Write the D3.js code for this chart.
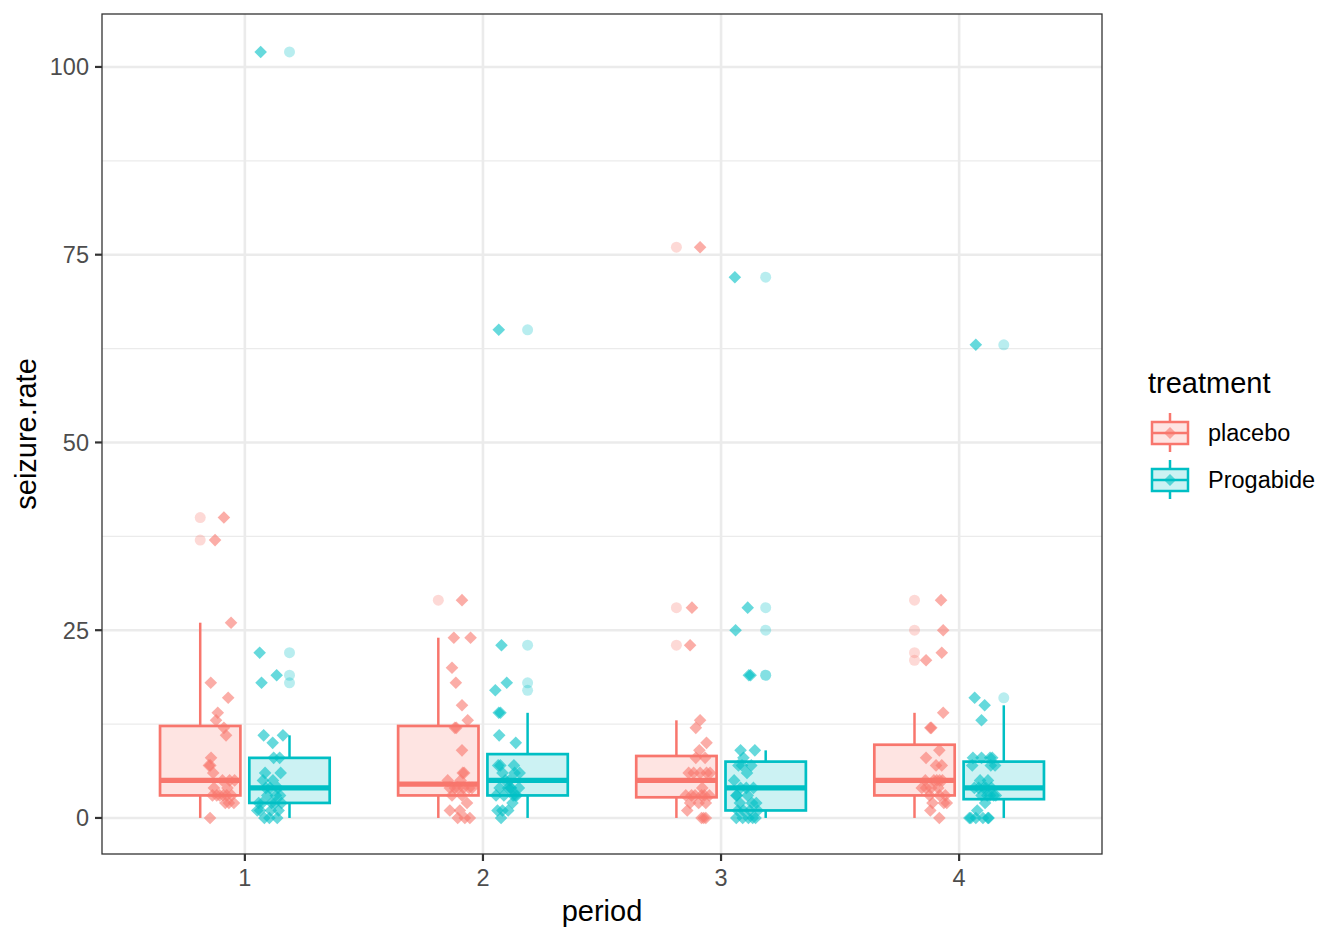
<!DOCTYPE html>
<html><head><meta charset="utf-8">
<script src="https://cdn.jsdelivr.net/npm/d3@7"></script>
<style>body{margin:0;background:#fff}svg{display:block;font-family:"Liberation Sans",Arial,sans-serif}</style>
</head><body><svg id="c" width="1344" height="940"></svg>
<script>
const periods = [1, 2, 3, 4];
const treatments = ["placebo", "Progabide"];
const colors = ["#F8766D", "#00BFC4"];
const yTicks = [0, 25, 50, 75, 100];
const yMinor = [12.5, 37.5, 62.5, 87.5];

// seizure counts per subject, one array per period
const placeboP1 = [5,3,2,4,7,5,6,40,5,14,26,12,4,7,16,11,0,37,3,3,3,3,2,8,18,2,3,13];
const placeboP2 = [3,5,4,4,18,2,4,20,6,13,12,6,4,9,24,0,0,29,5,0,4,4,3,12,24,1,1,15];
const placeboP3 = [3,3,0,1,9,8,0,23,6,6,6,8,6,12,10,0,3,28,2,6,3,3,3,2,76,2,4,13];
const placeboP4 = [3,3,5,4,21,7,2,12,5,0,22,4,2,14,9,5,3,29,5,7,4,4,5,8,25,1,2,12];
const progabideP1 = [11,8,0,3,2,4,22,5,2,3,4,2,0,5,11,10,19,1,6,2,102,4,8,1,18,6,3,1,2,0,1];
const progabideP2 = [14,7,4,6,6,3,17,4,4,7,18,1,2,4,14,5,7,1,10,1,65,3,6,3,11,3,5,23,3,0,4];
const progabideP3 = [9,9,3,1,7,1,19,7,0,7,2,1,4,0,25,3,6,2,8,0,72,2,5,1,28,4,4,19,0,0,3];
const progabideP4 = [8,4,0,3,4,3,16,4,4,7,5,0,0,3,15,8,7,3,8,0,63,4,7,5,13,0,3,8,1,0,2];

// horizontal jitter of each point (fraction of jitter width)
const jitPlaceboP1 = [0.6,-0.3,0.9,-0.5,-0.85,0.1,-0.55,0.2,0.95,-0.23,0.7,0.2,0.45,-0.75,0.5,0.35,-0.77,-0.42,0.15,0.75,-0.6,0.4,0.3,-0.7,-0.72,0.55,-0.1,-0.35];
const jitPlaceboP2 = [-0.5,0.1,0.7,-0.3,-0.23,0.55,-0.65,-0.5,0.35,0.6,-0.2,0.25,0.9,0.2,-0.37,-0.1,0.4,0.2,-0.8,0.75,0.3,-0.1,0.2,-0.3,0.8,-0.65,0.05,0.2];
const jitPlaceboP3 = [-0.4,0.5,0.3,-0.7,0.15,-0.1,0.6,-0.5,-0.25,0.65,0.2,0.55,-0.6,-0.1,0.65,0.45,0.85,-0.37,0.1,0.9,-0.15,0.3,-0.8,0.6,0.2,-0.5,0.35,0.2];
const jitPlaceboP4 = [0.3,-0.4,0.1,-0.95,-0.65,0.05,-0.2,-0.35,0.5,0.28,0.45,-0.65,0.6,0.55,0.28,-0.1,0.7,0.4,0.3,0.45,0.2,-0.3,-0.7,-0.65,0.55,-0.35,0.8,-0.28];
const jitProgabideP1 = [-0.35,0.35,-0.3,0.5,-0.7,0.1,-0.63,-0.4,0.2,-0.1,0.65,-0.45,0.6,0.3,1.0,0.28,0.56,-0.8,0.84,0.9,-0.56,-0.2,0.77,0.15,-0.5,-0.25,0.8,-0.6,0.45,0.05,0.7];
const jitProgabideP2 = [-0.56,-0.6,0.3,0.55,-0.3,0.7,-0.8,-0.5,0.1,-0.45,0.0,-0.65,0.4,0.85,-0.44,0.2,0.5,0.1,0.63,-0.3,-0.56,-0.2,0.9,0.45,-0.53,-0.75,-0.1,-0.37,0.6,-0.4,0.25];
const jitProgabideP3 = [-0.3,0.7,0.2,-0.5,-0.2,0.35,0.28,0.45,-0.6,-0.45,0.8,-0.1,0.6,0.25,-0.65,-0.55,0.15,-0.35,-0.1,0.55,-0.7,0.5,-0.75,0.9,0.2,-0.3,0.1,0.4,-0.15,0.75,-0.6];
const jitProgabideP4 = [-0.7,0.2,-0.85,0.5,-0.3,0.75,-0.58,0.05,-0.6,0.55,-0.2,0.0,-0.5,0.3,0.12,0.5,-0.75,-0.1,-0.1,0.35,-0.5,0.6,0.85,0.35,-0.1,-0.95,0.9,0.65,-0.4,0.4,0.15];

const values = [[placeboP1, progabideP1],[placeboP2, progabideP2],[placeboP3, progabideP3],[placeboP4, progabideP4]];
const jitters = [[jitPlaceboP1, jitProgabideP1],[jitPlaceboP2, jitProgabideP2],[jitPlaceboP3, jitProgabideP3],[jitPlaceboP4, jitProgabideP4]];

const svg = d3.select("#c");
const P = {l:102, r:1102, t:14, b:854};
const x = d3.scaleLinear().domain([0.4, 4.6]).range([P.l, P.r]);
const y = d3.scaleLinear().domain([-4.8, 107.05]).range([P.b, P.t]);

// grid
const g = svg.append("g");
g.selectAll(".mn").data(yMinor).join("line")
  .attr("x1", P.l).attr("x2", P.r).attr("y1", d=>y(d)).attr("y2", d=>y(d))
  .attr("stroke", "#EBEBEB").attr("stroke-width", 1.3);
g.selectAll(".mj").data(yTicks).join("line")
  .attr("x1", P.l).attr("x2", P.r).attr("y1", d=>y(d)).attr("y2", d=>y(d))
  .attr("stroke", "#EBEBEB").attr("stroke-width", 2.6);
g.selectAll(".mx").data(periods).join("line")
  .attr("x1", d=>x(d)).attr("x2", d=>x(d)).attr("y1", P.t).attr("y2", P.b)
  .attr("stroke", "#EBEBEB").attr("stroke-width", 2.6);

const boxOff = 0.1875, boxW = 0.3375, jitOff = 0.1, jitW = 0.06;
const sx = x(1) - x(0);

function diamond(cx, cy, r) {
  return `M${cx},${cy-r}L${cx+r},${cy}L${cx},${cy+r}L${cx-r},${cy}Z`;
}

const boxes = svg.append("g");
const pts = svg.append("g");
periods.forEach((p, pi) => {
  treatments.forEach((t, ti) => {
    const vals = values[pi][ti];
    const s = vals.slice().sort(d3.ascending);
    const q1 = d3.quantile(s, 0.25), med = d3.quantile(s, 0.5), q3 = d3.quantile(s, 0.75);
    const iqr = q3 - q1;
    const lo = d3.min(s.filter(v => v >= q1 - 1.5*iqr));
    const hi = d3.max(s.filter(v => v <= q3 + 1.5*iqr));
    const outs = s.filter(v => v < lo || v > hi);
    const cx = p + (ti === 0 ? -boxOff : boxOff);
    const col = colors[ti];
    // outliers
    boxes.selectAll(null).data(outs).join("circle")
      .attr("cx", x(cx)).attr("cy", d=>y(d)).attr("r", 5.5)
      .attr("fill", col).attr("fill-opacity", 0.28);
    // whiskers
    boxes.append("line").attr("x1", x(cx)).attr("x2", x(cx)).attr("y1", y(q3)).attr("y2", y(hi))
      .attr("stroke", col).attr("stroke-width", 2.5);
    boxes.append("line").attr("x1", x(cx)).attr("x2", x(cx)).attr("y1", y(q1)).attr("y2", y(lo))
      .attr("stroke", col).attr("stroke-width", 2.5);
    boxes.append("rect").attr("x", x(cx - boxW/2)).attr("width", boxW*sx)
      .attr("y", y(q3)).attr("height", y(q1) - y(q3))
      .attr("fill", col).attr("fill-opacity", 0.2).attr("stroke", col).attr("stroke-width", 2.7);
    boxes.append("line").attr("x1", x(cx - boxW/2)).attr("x2", x(cx + boxW/2)).attr("y1", y(med)).attr("y2", y(med))
      .attr("stroke", col).attr("stroke-width", 5.4);
    // jittered points
    const jc = p + (ti === 0 ? -jitOff : jitOff);
    const jit = jitters[pi][ti];
    pts.selectAll(null).data(vals.map((v, i) => ({v, j: jit[i]}))).join("path")
      .attr("d", d => diamond(x(jc + d.j*jitW), y(d.v), 6.3))
      .attr("fill", col).attr("fill-opacity", 0.6);
  });
});

// panel border
svg.append("rect").attr("x", P.l).attr("y", P.t).attr("width", P.r-P.l).attr("height", P.b-P.t)
  .attr("fill", "none").attr("stroke", "#333333").attr("stroke-width", 1.3);

// axes
const ax = svg.append("g");
ax.selectAll(".yt").data(yTicks).join("line")
  .attr("x1", P.l-7).attr("x2", P.l).attr("y1", d=>y(d)).attr("y2", d=>y(d))
  .attr("stroke", "#333333").attr("stroke-width", 2.2);
ax.selectAll(".yl").data(yTicks).join("text")
  .attr("x", P.l-13).attr("y", d=>y(d)).attr("dy", "0.36em").attr("text-anchor", "end")
  .attr("font-size", 23.5).attr("fill", "#4D4D4D").text(d=>d);
ax.selectAll(".xt").data(periods).join("line")
  .attr("x1", d=>x(d)).attr("x2", d=>x(d)).attr("y1", P.b).attr("y2", P.b+7)
  .attr("stroke", "#333333").attr("stroke-width", 2.2);
ax.selectAll(".xl").data(periods).join("text")
  .attr("x", d=>x(d)).attr("y", 886).attr("text-anchor", "middle")
  .attr("font-size", 23.5).attr("fill", "#4D4D4D").text(d=>d);

svg.append("text").attr("x", (P.l+P.r)/2).attr("y", 921).attr("text-anchor", "middle")
  .attr("font-size", 29).attr("fill", "#000").text("period");
svg.append("text").attr("transform", `translate(36,${(P.t+P.b)/2}) rotate(-90)`)
  .attr("text-anchor", "middle").attr("font-size", 29).attr("fill", "#000").text("seizure.rate");

// legend
const lg = svg.append("g");
lg.append("text").attr("x", 1148).attr("y", 393).attr("font-size", 29).attr("fill", "#000").text("treatment");
treatments.forEach((t, i) => {
  const cy = 433 + i*47, col = colors[i];
  lg.append("line").attr("x1", 1170).attr("x2", 1170).attr("y1", cy-20).attr("y2", cy+19)
    .attr("stroke", col).attr("stroke-width", 2.5);
  lg.append("rect").attr("x", 1152).attr("y", cy-11).attr("width", 36).attr("height", 22)
    .attr("fill", "#fff");
  lg.append("rect").attr("x", 1152).attr("y", cy-11).attr("width", 36).attr("height", 22)
    .attr("fill", col).attr("fill-opacity", 0.2).attr("stroke", col).attr("stroke-width", 2.5);
  lg.append("line").attr("x1", 1152).attr("x2", 1188).attr("y1", cy).attr("y2", cy)
    .attr("stroke", col).attr("stroke-width", 2.5);
  lg.append("path").attr("d", diamond(1170, cy, 6)).attr("fill", col).attr("fill-opacity", 0.6);
  lg.append("text").attr("x", 1208).attr("y", cy).attr("dy", "0.36em").attr("font-size", 23.5)
    .attr("fill", "#000").text(t);
});
</script></body></html>
